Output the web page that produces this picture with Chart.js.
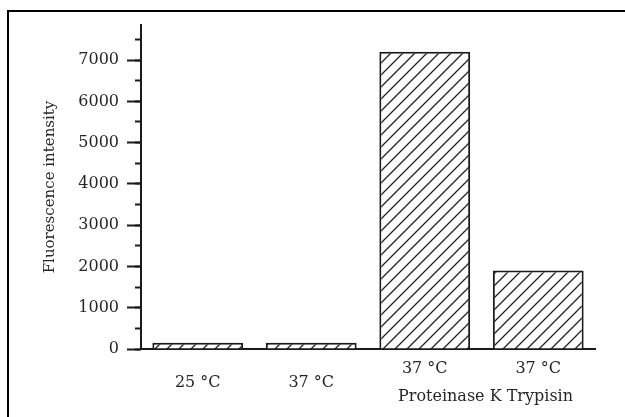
<!DOCTYPE html>
<html>
<head>
<meta charset="utf-8">
<script src="https://cdn.jsdelivr.net/npm/chart.js@4/dist/chart.umd.min.js"></script>
<style>
  html, body { margin: 0; padding: 0; background: #fff; }
  #wrap { position: relative; width: 625px; height: 417px; overflow: hidden; }
  #frame {
    position: absolute; left: 7px; top: 10px; right: -10px; bottom: -10px;
    border-top: 2px solid #000; border-left: 2px solid #000; pointer-events: none;
  }
  canvas { position: absolute; left: 0; top: 0; }
</style>
</head>
<body>
<div id="wrap">
  <canvas id="chart" width="625" height="417"></canvas>
  <div id="frame"></div>
</div>
<script>
const TEMP_LABELS = ["25 °C", "37 °C", "37 °C", "37 °C"];
const GROUP_LABEL = "Proteinase K Trypisin";
const GROUP_SPAN = [2, 3];
const INTENSITY = [150, 150, 7200, 1900];
const Y_MAX = 7850;
const MAJOR_STEP = 1000;
const MINOR_STEP = 500;

const INK = "#1a1a1a";
const TEXT = "#262626";
const FONT = "'DejaVu Serif', serif";
const LABEL_LH = 28;
const LABEL_PAD = 20;

// x labels: the treated samples get an empty second line so the group label fits under them
const categories = TEMP_LABELS.map((t, i) => (GROUP_SPAN.includes(i) ? [t, ""] : t));

function makeHatch() {
  const s = 12;
  const c = document.createElement("canvas");
  c.width = s;
  c.height = s;
  const g = c.getContext("2d");
  g.fillStyle = "#fff";
  g.fillRect(0, 0, s, s);
  g.strokeStyle = "#222";
  g.lineWidth = 1.3;
  g.beginPath();
  g.moveTo(0, s); g.lineTo(s, 0);
  g.moveTo(-s / 2, s / 2); g.lineTo(s / 2, -s / 2);
  g.moveTo(s / 2, s * 1.5); g.lineTo(s * 1.5, s / 2);
  g.stroke();
  return g.createPattern(c, "repeat");
}

// build ticks on fixed steps (Chart.js would otherwise stretch the step to reach max)
function stepTicks(step) {
  return (scale) => {
    const ticks = [];
    for (let v = 0; v <= Y_MAX; v += step) ticks.push({ value: v });
    scale.ticks = ticks;
  };
}

const groupLabelPlugin = {
  id: "groupLabel",
  afterDraw(chart) {
    const x = chart.scales.x;
    const cx = (x.getPixelForValue(GROUP_SPAN[0]) + x.getPixelForValue(GROUP_SPAN[1])) / 2 + 4;
    const cy = x.top + LABEL_PAD + LABEL_LH;
    const ctx = chart.ctx;
    ctx.save();
    ctx.font = "16px " + FONT;
    ctx.fillStyle = TEXT;
    ctx.textAlign = "center";
    ctx.textBaseline = "middle";
    ctx.fillText(GROUP_LABEL, cx, cy);
    ctx.restore();
  },
};

new Chart(document.getElementById("chart"), {
  type: "bar",
  data: {
    labels: categories,
    datasets: [
      {
        data: INTENSITY,
        backgroundColor: makeHatch(),
        borderColor: INK,
        borderWidth: 2,
        barPercentage: 0.8,
        categoryPercentage: 1.0,
        yAxisID: "y",
      },
    ],
  },
  plugins: [groupLabelPlugin],
  options: {
    responsive: false,
    animation: false,
    layout: { padding: { left: 35, right: 30, top: 25, bottom: 0 } },
    plugins: { legend: { display: false }, tooltip: { enabled: false } },
    scales: {
      x: {
        afterFit(scale) { scale.height = 68; },
        grid: { display: false, drawTicks: false },
        border: { display: true, color: INK, width: 2 },
        ticks: {
          color: TEXT,
          padding: LABEL_PAD,
          crossAlign: "center",
          autoSkip: false,
          maxRotation: 0,
          font: { family: FONT, size: 16, lineHeight: LABEL_LH / 16 },
        },
      },
      y: {
        position: "left",
        weight: 1,
        min: 0,
        max: Y_MAX,
        afterBuildTicks: stepTicks(MAJOR_STEP),
        afterFit(scale) { scale.width = 106; },
        grid: {
          drawOnChartArea: false,
          drawTicks: true,
          tickLength: 14,
          tickWidth: 2,
          tickColor: INK,
        },
        border: { display: true, color: INK, width: 2 },
        ticks: {
          color: TEXT,
          padding: 8,
          autoSkip: false,
          font: { family: FONT, size: 16 },
          callback: (v) => String(v),
        },
        title: {
          display: true,
          text: "Fluorescence intensity",
          color: TEXT,
          padding: { top: 6, bottom: 0 },
          font: { family: FONT, size: 15 },
        },
      },
      yMinor: {
        position: "left",
        weight: 0,
        min: 0,
        max: Y_MAX,
        afterBuildTicks: stepTicks(MINOR_STEP),
        afterFit(scale) { scale.width = 0; },
        grid: {
          drawOnChartArea: false,
          drawTicks: true,
          tickLength: 6,
          tickWidth: 2,
          tickColor: INK,
        },
        border: { display: false },
        ticks: { display: false, autoSkip: false },
      },
    },
  },
});
</script>
</body>
</html>
